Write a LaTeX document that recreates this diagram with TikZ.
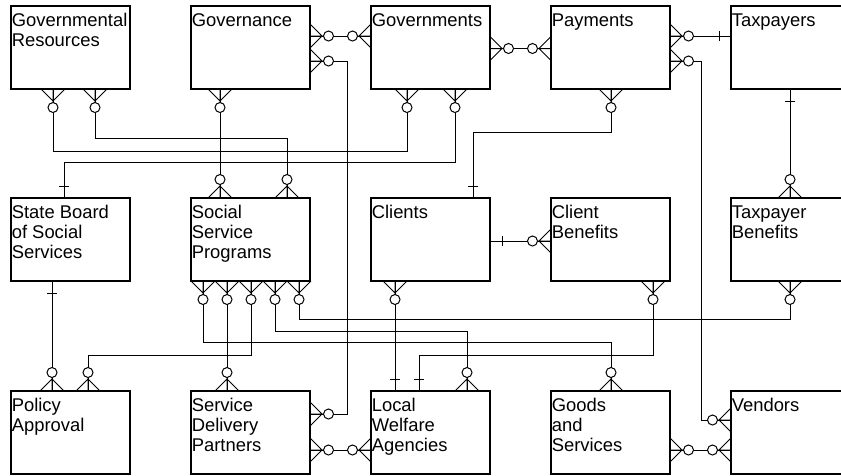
\documentclass[tikz,border=0pt]{standalone}
\usepackage{fontspec}
\setmainfont{Liberation Sans}
\usetikzlibrary{calc}
\tikzset{
  manyopt/.pic={
    \draw (0,-12) -- (12,0) -- (0,12) (0,0) -- (14,0);
    \draw[fill=white] (18.5,0) circle[radius=5];
  },
  onebar/.pic={
    \draw (12,-5) -- (12,5);
  },
  box/.style={draw, line width=1.2pt, minimum width=119pt, minimum height=83pt, inner sep=0pt, outer sep=0pt},
  lbl/.style={anchor=north west, align=left, inner sep=0pt, font=\fontsize{18.4}{20.2}\selectfont},
}
\begin{document}
\begin{tikzpicture}[x=1pt,y=-1pt,line width=1pt]
\fill[white] (0,0) rectangle (841,475);
\useasboundingbox (0,0) rectangle (841,475);

% boxes
\node[box] (gr)    at (70.5,47.5)  {};
\node[box] (gov)   at (250.5,47.5) {};
\node[box] (govts) at (430.5,47.5) {};
\node[box] (pay)   at (610.5,47.5) {};
\node[box] (tax)   at (790.5,47.5) {};
\node[box] (sbss)  at (70.5,239.5)  {};
\node[box] (ssp)   at (250.5,239.5) {};
\node[box] (cli)   at (430.5,239.5) {};
\node[box] (cb)    at (610.5,239.5) {};
\node[box] (tb)    at (790.5,239.5) {};
\node[box] (pa)    at (70.5,432.5)  {};
\node[box] (sdp)   at (250.5,432.5) {};
\node[box] (lwa)   at (430.5,432.5) {};
\node[box] (gs)    at (610.5,432.5) {};
\node[box] (ven)   at (790.5,432.5) {};

% labels
\node[lbl] (gr-t)    at ($(gr.north west)+(0.3,5.8)$)    {\strut Governmental\\Resources};
\node[lbl] (gov-t)   at ($(gov.north west)+(0.3,5.8)$)   {\strut Governance};
\node[lbl] (govts-t) at ($(govts.north west)+(0.3,5.8)$) {\strut Governments};
\node[lbl] (pay-t)   at ($(pay.north west)+(0.3,5.8)$)   {\strut Payments};
\node[lbl] (tax-t)   at ($(tax.north west)+(0.3,5.8)$)   {\strut Taxpayers};
\node[lbl] (sbss-t)  at ($(sbss.north west)+(0.3,5.8)$)  {\strut State Board\\of Social\\Services};
\node[lbl] (ssp-t)   at ($(ssp.north west)+(0.3,5.8)$)   {\strut Social\\Service\\Programs};
\node[lbl] (cli-t)   at ($(cli.north west)+(0.3,5.8)$)   {\strut Clients};
\node[lbl] (cb-t)    at ($(cb.north west)+(0.3,5.8)$)    {\strut Client\\Benefits};
\node[lbl] (tb-t)    at ($(tb.north west)+(0.3,5.8)$)    {\strut Taxpayer\\Benefits};
\node[lbl] (pa-t)    at ($(pa.north west)+(0.3,5.8)$)    {\strut Policy\\Approval};
\node[lbl] (sdp-t)   at ($(sdp.north west)+(0.3,5.8)$)   {\strut Service\\Delivery\\Partners};
\node[lbl] (lwa-t)   at ($(lwa.north west)+(0.3,5.8)$)   {\strut Local\\Welfare\\Agencies};
\node[lbl] (gs-t)    at ($(gs.north west)+(0.3,5.8)$)    {\strut Goods\\and\\Services};
\node[lbl] (ven-t)   at ($(ven.north west)+(0.3,5.8)$)   {\strut Vendors};

% attachment points
\coordinate (gr-b1) at ($(gr.south west)+(42,0)$);
\coordinate (gr-b2) at ($(gr.south west)+(84,0)$);
\coordinate (gov-r1) at ($(gov.north east)+(0,30)$);
\coordinate (gov-r2) at ($(gov.north east)+(0,55)$);
\coordinate (gov-b1) at ($(gov.south west)+(29,0)$);
\coordinate (govts-l1) at ($(govts.north west)+(0,30)$);
\coordinate (govts-r1) at ($(govts.north east)+(0,42.5)$);
\coordinate (govts-b1) at ($(govts.south west)+(36,0)$);
\coordinate (govts-b2) at ($(govts.south west)+(84,0)$);
\coordinate (pay-l1) at ($(pay.north west)+(0,42.5)$);
\coordinate (pay-r1) at ($(pay.north east)+(0,30)$);
\coordinate (pay-r2) at ($(pay.north east)+(0,55)$);
\coordinate (pay-b1) at ($(pay.south west)+(60,0)$);
\coordinate (tax-l1) at ($(tax.north west)+(0,30)$);
\coordinate (tax-b1) at ($(tax.south west)+(59,0)$);
\coordinate (sbss-t1) at ($(sbss.north west)+(53,0)$);
\coordinate (sbss-b1) at ($(sbss.south west)+(41,0)$);
\coordinate (ssp-t1) at ($(ssp.north west)+(29,0)$);
\coordinate (ssp-t2) at ($(ssp.north west)+(96,0)$);
\coordinate (ssp-b1) at ($(ssp.south west)+(12,0)$);
\coordinate (ssp-b2) at ($(ssp.south west)+(36,0)$);
\coordinate (ssp-b3) at ($(ssp.south west)+(60,0)$);
\coordinate (ssp-b4) at ($(ssp.south west)+(84,0)$);
\coordinate (ssp-b5) at ($(ssp.south west)+(108,0)$);
\coordinate (cli-t1) at ($(cli.north west)+(102,0)$);
\coordinate (cli-r1) at ($(cli.north east)+(0,43)$);
\coordinate (cli-b1) at ($(cli.south west)+(24,0)$);
\coordinate (cb-l1) at ($(cb.north west)+(0,43)$);
\coordinate (cb-b1) at ($(cb.south west)+(102,0)$);
\coordinate (tb-t1) at ($(tb.north west)+(59,0)$);
\coordinate (tb-b1) at ($(tb.south west)+(59,0)$);
\coordinate (pa-t1) at ($(pa.north west)+(41,0)$);
\coordinate (pa-t2) at ($(pa.north west)+(77,0)$);
\coordinate (sdp-t1) at ($(sdp.north west)+(36,0)$);
\coordinate (sdp-r1) at ($(sdp.north east)+(0,23)$);
\coordinate (sdp-r2) at ($(sdp.north east)+(0,59)$);
\coordinate (lwa-t1) at ($(lwa.north west)+(24,0)$);
\coordinate (lwa-t2) at ($(lwa.north west)+(48,0)$);
\coordinate (lwa-t3) at ($(lwa.north west)+(96,0)$);
\coordinate (lwa-l1) at ($(lwa.north west)+(0,59)$);
\coordinate (gs-t1) at ($(gs.north west)+(60,0)$);
\coordinate (gs-r1) at ($(gs.north east)+(0,59)$);
\coordinate (ven-l1) at ($(ven.north west)+(0,29)$);
\coordinate (ven-l2) at ($(ven.north west)+(0,59)$);

% connectors
\draw (gov-r1) -- (govts-l1);
\draw (gov-r2) -- ++(37,0) |- (sdp-r1);
\draw (sdp-r2) -- (lwa-l1);
\draw (govts-r1) -- (pay-l1);
\draw (pay-r1) -- (tax-l1);
\draw (pay-r2) -- ++(31,0) |- (ven-l1);
\draw (gs-r1) -- (ven-l2);
\draw (tax-b1) -- (tb-t1);
\draw (pay-b1) -- ++(0,43) -| (cli-t1);
\draw (gr-b1) -- ++(0,62) -| (govts-b1);
\draw (govts-b2) -- ++(0,73) -| (sbss-t1);
\draw (gr-b2) -- ++(0,49) -| (ssp-t2);
\draw (gov-b1) -- (ssp-t1);
\draw (sbss-b1) -- (pa-t1);
\draw (ssp-b1) -- ++(0,61) -| (gs-t1);
\draw (ssp-b2) -- (sdp-t1);
\draw (ssp-b3) -- ++(0,74) -| (pa-t2);
\draw (ssp-b4) -- ++(0,50) -| (lwa-t3);
\draw (ssp-b5) -- ++(0,38) -| (tb-b1);
\draw (cli-b1) -- (lwa-t1);
\draw (cb-b1) -- ++(0,74) -| (lwa-t2);
\draw (cli-r1) -- (cb-l1);

% end markers
\foreach \p/\r in {gr-b1/-90, gr-b2/-90, gov-r1/0, gov-r2/0, gov-b1/-90,
  govts-l1/180, govts-r1/0, govts-b1/-90, govts-b2/-90,
  pay-l1/180, pay-r1/0, pay-r2/0, pay-b1/-90,
  ssp-t1/90, ssp-t2/90, ssp-b1/-90, ssp-b2/-90, ssp-b3/-90, ssp-b4/-90, ssp-b5/-90,
  cli-b1/-90, cb-l1/180, cb-b1/-90, tb-t1/90, tb-b1/-90,
  pa-t1/90, pa-t2/90, sdp-t1/90, sdp-r1/0, sdp-r2/0,
  lwa-t3/90, lwa-l1/180, gs-t1/90, gs-r1/0, ven-l1/180, ven-l2/180}
  \pic[rotate=\r] at (\p) {manyopt};
\foreach \p/\r in {tax-l1/180, tax-b1/-90, sbss-t1/90, sbss-b1/-90,
  cli-t1/90, cli-r1/0, lwa-t1/90, lwa-t2/90}
  \pic[rotate=\r] at (\p) {onebar};
\end{tikzpicture}
\end{document}
